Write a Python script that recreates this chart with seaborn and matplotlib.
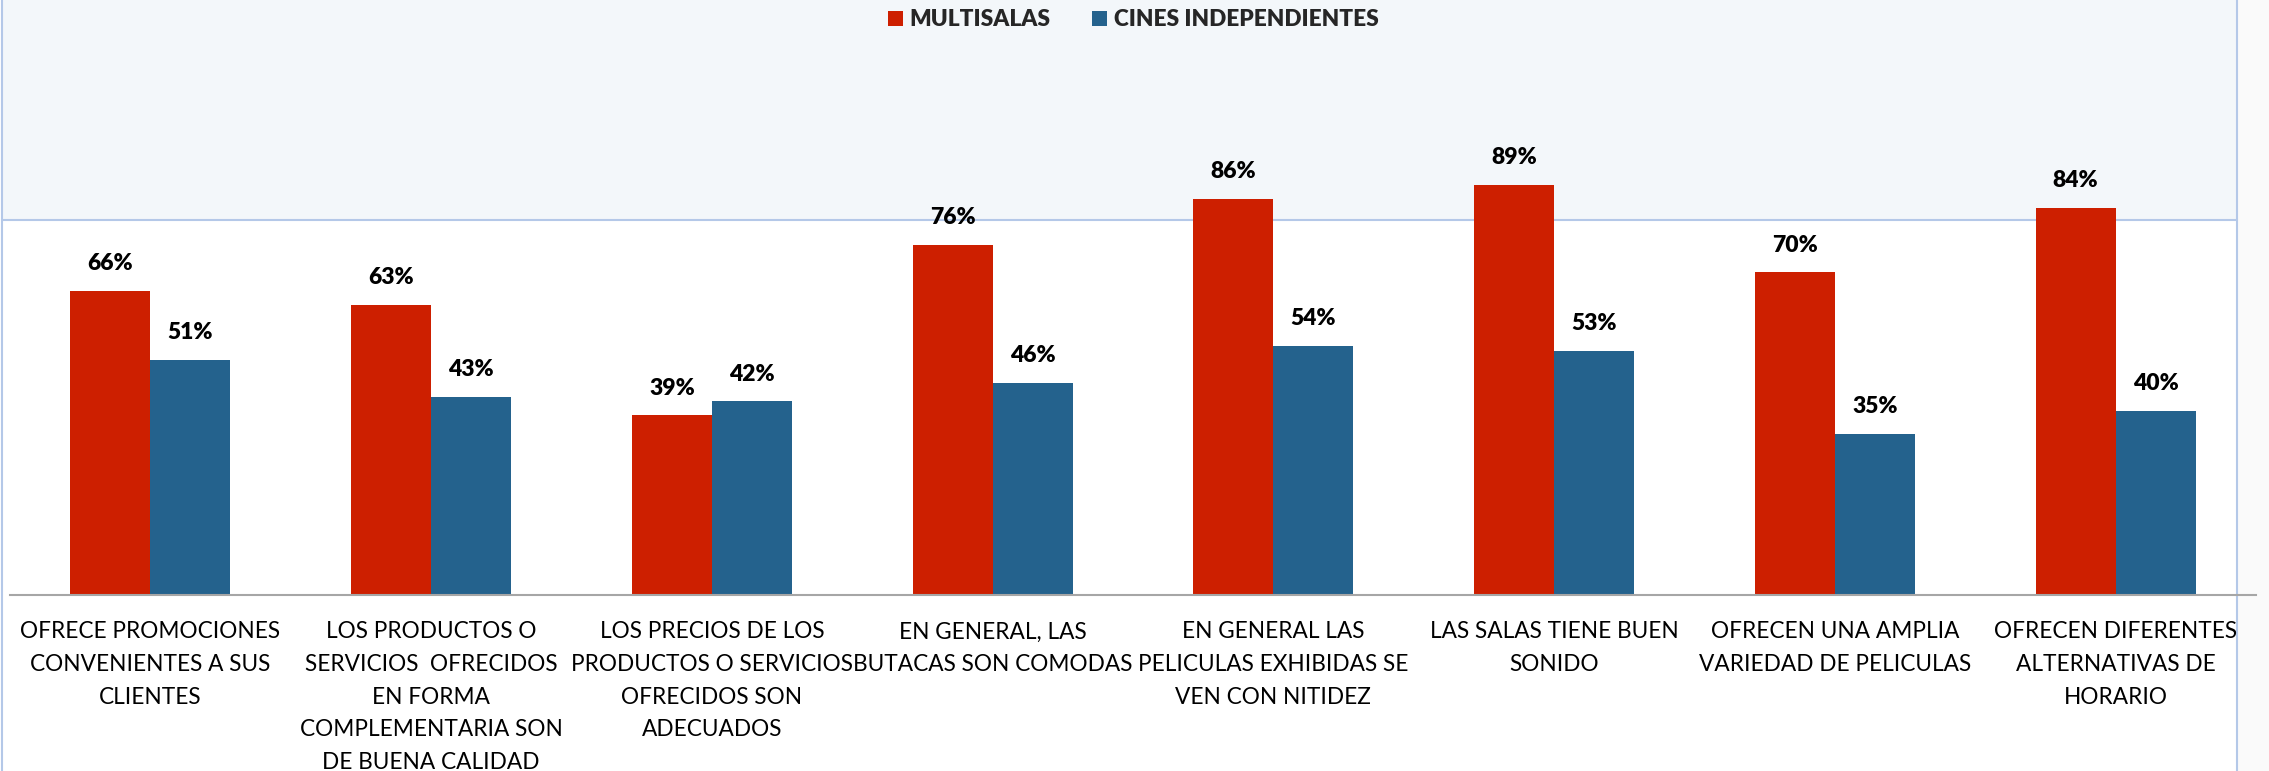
import matplotlib
matplotlib.use("Agg")
import matplotlib.pyplot as plt
from matplotlib.patches import Rectangle
from matplotlib.lines import Line2D
import seaborn as sns
import pandas as pd

# Survey items (x categories)
categories = [
    "OFRECE PROMOCIONES\nCONVENIENTES A SUS\nCLIENTES",
    "LOS PRODUCTOS O\nSERVICIOS  OFRECIDOS\nEN FORMA\nCOMPLEMENTARIA SON\nDE BUENA CALIDAD",
    "LOS PRECIOS DE LOS\nPRODUCTOS O SERVICIOS\nOFRECIDOS SON\nADECUADOS",
    "EN GENERAL, LAS\nBUTACAS SON COMODAS",
    "EN GENERAL LAS\nPELICULAS EXHIBIDAS SE\nVEN CON NITIDEZ",
    "LAS SALAS TIENE BUEN\nSONIDO",
    "OFRECEN UNA AMPLIA\nVARIEDAD DE PELICULAS",
    "OFRECEN DIFERENTES\nALTERNATIVAS DE\nHORARIO",
]
series_names = ["MULTISALAS", "CINES INDEPENDIENTES"]
multisalas = [66, 63, 39, 76, 86, 89, 70, 84]
independientes = [51, 43, 42, 46, 54, 53, 35, 40]

colors = {"MULTISALAS": "#CD1F00", "CINES INDEPENDIENTES": "#24628D"}

df = pd.DataFrame({
    "item": categories * 2,
    "serie": [series_names[0]] * len(categories) + [series_names[1]] * len(categories),
    "valor": multisalas + independientes,
})

sns.set_theme(style="white")
plt.rcParams["font.family"] = ["Lato", "DejaVu Sans"]

W, H = 2269, 771
fig = plt.figure(figsize=(W / 100, H / 100), dpi=100)
fig.patch.set_facecolor("white")

def fx(px):
    return px / W

def fy(py):
    return 1 - py / H

# Background: shaded top band, faint strip on the right, thin frame lines
fig.patches.append(Rectangle((fx(2), fy(220)), fx(2237) - fx(2), fy(0) - fy(220),
                             transform=fig.transFigure, facecolor="#F3F7FA",
                             edgecolor="none", zorder=0))
fig.patches.append(Rectangle((fx(2238), 0), 1 - fx(2238), 1,
                             transform=fig.transFigure, facecolor="#FAFAFA",
                             edgecolor="none", zorder=0))
frame_col = "#B4C8E8"
fig.lines.append(Line2D([fx(2), fx(2237)], [fy(220), fy(220)], transform=fig.transFigure,
                        color=frame_col, lw=1.5, zorder=1))
fig.lines.append(Line2D([fx(2), fx(2)], [0, 1], transform=fig.transFigure,
                        color=frame_col, lw=1.5, zorder=1))
fig.lines.append(Line2D([fx(2237), fx(2237)], [0, 1], transform=fig.transFigure,
                        color=frame_col, lw=1.5, zorder=1))

# Plot area: baseline at y=595 px, 4.61 px per percentage point
left_px, right_px = 10, 2256
base_px = 595
top_px = base_px - 4.61 * 100
ax = fig.add_axes([fx(left_px), fy(base_px), fx(right_px) - fx(left_px), (base_px - top_px) / H])
ax.set_facecolor("none")
ax.set_zorder(2)

sns.barplot(data=df, x="item", y="valor", hue="serie", hue_order=series_names,
            palette=colors, width=0.57, gap=0, saturation=1, errorbar=None,
            edgecolor="none", linewidth=0, ax=ax)

ax.set_ylim(0, 100)
ax.set_xlim(-0.5, len(categories) - 0.5)
ax.set_xlabel("")
ax.set_ylabel("")
ax.set_yticks([])
for side in ["left", "right", "top"]:
    ax.spines[side].set_visible(False)
ax.spines["bottom"].set_color("#A6A6A6")
ax.spines["bottom"].set_linewidth(1.5)
ax.tick_params(axis="x", length=0, pad=19)
for lbl in ax.get_xticklabels():
    lbl.set_fontsize(16.3)
    lbl.set_color("black")
    lbl.set_linespacing(1.68)
    lbl.set_multialignment("center")

# Value labels above every bar
for container in ax.containers:
    for bar in container:
        h = bar.get_height()
        ax.annotate(f"{h:.0f}%", (bar.get_x() + bar.get_width() / 2, h),
                    xytext=(0, 19.5), textcoords="offset points",
                    ha="center", va="center", fontsize=16.5, fontweight="heavy",
                    color="black", annotation_clip=False)

# Legend centred at the top
handles, labels = ax.get_legend_handles_labels()
ax.get_legend().remove()
fig.legend(handles, labels, loc="center", bbox_to_anchor=(fx(1133), fy(20)),
           ncol=2, frameon=False, prop={"weight": "heavy", "size": 16.3},
           handlelength=0.68, handleheight=0.68, handletextpad=0.3,
           columnspacing=1.8, borderaxespad=0)

fig.savefig("out.png", dpi=100)
